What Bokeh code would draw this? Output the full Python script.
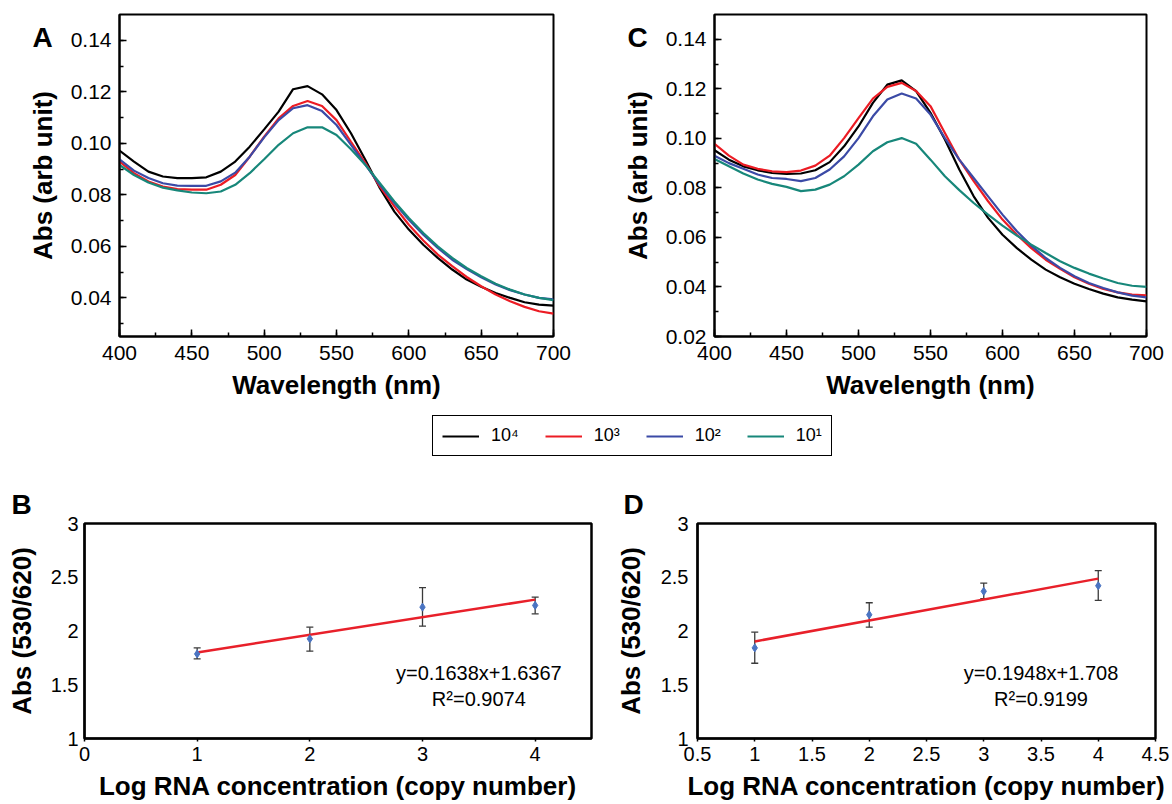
from bokeh.plotting import figure
from bokeh.models import (Range1d, SingleIntervalTicker, FixedTicker, PrintfTickFormatter,
                          CustomJSTickFormatter, Label, Legend, LegendItem, Whisker, TeeHead,
                          ColumnDataSource, Title)
from bokeh.layouts import column, row
from bokeh.embed import file_html
from bokeh.resources import INLINE

FONT = "Liberation Sans"

# ---------------- data ----------------
wavelength = list(range(400, 701, 10))
series_labels = ["10⁴", "10³", "10²", "10¹"]
series_colors = ["#000000", "#ec1c24", "#3b4aa6", "#17877a"]

# Panel A spectra
a_1e4 = [0.0972, 0.0929, 0.0890, 0.0871, 0.0865, 0.0865, 0.0868, 0.0890, 0.0929, 0.0987,
         0.1054, 0.1123, 0.1210, 0.1222, 0.1190, 0.1129, 0.1039, 0.0935, 0.0826, 0.0735,
         0.0665, 0.0606, 0.0555, 0.0510, 0.0471, 0.0443, 0.0419, 0.0400, 0.0383, 0.0374, 0.0370]
a_1e3 = [0.0929, 0.0884, 0.0852, 0.0832, 0.0822, 0.0820, 0.0820, 0.0839, 0.0877, 0.0948,
         0.1026, 0.1097, 0.1145, 0.1164, 0.1145, 0.1090, 0.1006, 0.0923, 0.0832, 0.0755,
         0.0684, 0.0623, 0.0568, 0.0523, 0.0481, 0.0445, 0.0413, 0.0387, 0.0365, 0.0348, 0.0339]
a_1e2 = [0.0938, 0.0894, 0.0865, 0.0845, 0.0836, 0.0835, 0.0835, 0.0852, 0.0886, 0.0948,
         0.1023, 0.1090, 0.1136, 0.1148, 0.1125, 0.1071, 0.0994, 0.0916, 0.0839, 0.0768,
         0.0703, 0.0645, 0.0594, 0.0548, 0.0512, 0.0480, 0.0452, 0.0430, 0.0413, 0.0400, 0.0394]
a_1e1 = [0.0916, 0.0877, 0.0848, 0.0828, 0.0817, 0.0809, 0.0806, 0.0813, 0.0839, 0.0884,
         0.0938, 0.0994, 0.1039, 0.1062, 0.1062, 0.1032, 0.0977, 0.0916, 0.0845, 0.0774,
         0.0710, 0.0652, 0.0600, 0.0555, 0.0516, 0.0484, 0.0455, 0.0432, 0.0413, 0.0400, 0.0391]

# Panel C spectra
c_1e4 = [0.0952, 0.0914, 0.0887, 0.0871, 0.0860, 0.0856, 0.0858, 0.0871, 0.0904, 0.0968,
         0.1048, 0.1143, 0.1217, 0.1234, 0.1191, 0.1103, 0.0995, 0.0874, 0.0766, 0.0679,
         0.0611, 0.0557, 0.0510, 0.0470, 0.0439, 0.0413, 0.0392, 0.0373, 0.0358, 0.0349, 0.0342]
c_1e3 = [0.0978, 0.0930, 0.0894, 0.0877, 0.0867, 0.0864, 0.0870, 0.0890, 0.0930, 0.1001,
         0.1082, 0.1160, 0.1208, 0.1224, 0.1191, 0.1130, 0.1022, 0.0914, 0.0827, 0.0746,
         0.0672, 0.0611, 0.0557, 0.0510, 0.0473, 0.0439, 0.0413, 0.0392, 0.0378, 0.0369, 0.0366]
c_1e2 = [0.0930, 0.0900, 0.0877, 0.0854, 0.0840, 0.0836, 0.0827, 0.0840, 0.0874, 0.0927,
         0.1001, 0.1089, 0.1157, 0.1181, 0.1161, 0.1096, 0.1001, 0.0914, 0.0840, 0.0766,
         0.0692, 0.0625, 0.0567, 0.0517, 0.0477, 0.0443, 0.0416, 0.0396, 0.0378, 0.0365, 0.0358]
c_1e1 = [0.0917, 0.0887, 0.0858, 0.0834, 0.0816, 0.0804, 0.0787, 0.0793, 0.0813, 0.0847,
         0.0894, 0.0948, 0.0984, 0.1001, 0.0978, 0.0914, 0.0847, 0.0791, 0.0739, 0.0692,
         0.0648, 0.0607, 0.0571, 0.0537, 0.0504, 0.0477, 0.0454, 0.0434, 0.0416, 0.0405, 0.0400]

# Panels B and D: calibration
log_conc = [1, 2, 3, 4]
b_mean = [1.787, 1.927, 2.222, 2.238]
b_upper = [1.843, 2.036, 2.403, 2.316]
b_lower = [1.740, 1.812, 2.045, 2.160]
b_slope, b_intercept = 0.1638, 1.6367
b_eq = "y=0.1638x+1.6367"
b_r2 = "R²=0.9074"

d_mean = [1.843, 2.151, 2.369, 2.421]
d_upper = [1.989, 2.263, 2.446, 2.561]
d_lower = [1.700, 2.036, 2.300, 2.285]
d_slope, d_intercept = 0.1948, 1.708
d_eq = "y=0.1948x+1.708"
d_r2 = "R²=0.9199"

b_xticks = [0, 1, 2, 3, 4]
d_xticks = [0.5, 1, 1.5, 2, 2.5, 3, 3.5, 4, 4.5]
calib_yticks = [1, 1.5, 2, 2.5, 3]


def base_axis_style(p, tick_font="20px", label_font="26px"):
    for ax in p.axis:
        ax.axis_line_color = "black"
        ax.axis_line_width = 2
        ax.major_tick_line_color = "black"
        ax.minor_tick_line_color = "black"
        ax.major_tick_line_width = 1.5
        ax.minor_tick_line_width = 1.5
        ax.major_label_text_font = FONT
        ax.major_label_text_font_size = tick_font
        ax.major_label_text_color = "black"
        ax.axis_label_text_font = FONT
        ax.axis_label_text_font_size = label_font
        ax.axis_label_text_font_style = "bold"
        ax.axis_label_text_color = "black"
    p.xgrid.visible = False
    p.ygrid.visible = False
    p.outline_line_color = "black"
    p.outline_line_alpha = 1.0


def spectrum_fig(width, mbl, mbr, ymin, letter, letter_y, letter_dx, curves):
    p = figure(width=width, height=408, output_backend="svg", toolbar_location=None,
               x_range=Range1d(400, 700), y_range=Range1d(ymin, 0.15),
               min_border_left=mbl, min_border_right=mbr,
               min_border_top=14, min_border_bottom=72)
    for ys, c in zip(curves, series_colors):
        p.line(wavelength, ys, line_color=c, line_width=2.2)
    p.xaxis.ticker = SingleIntervalTicker(interval=50, num_minor_ticks=2)
    p.yaxis.ticker = SingleIntervalTicker(interval=0.02, num_minor_ticks=2)
    p.yaxis.formatter = PrintfTickFormatter(format="%.2f")
    p.xaxis.axis_label = "Wavelength (nm)"
    p.yaxis.axis_label = "Abs (arb unit)"
    base_axis_style(p, tick_font="21px")
    for ax in p.axis:
        ax.major_tick_in = 7
        ax.major_tick_out = 0
        ax.minor_tick_in = 4
        ax.minor_tick_out = 0
    p.xaxis.major_label_standoff = 9
    p.xaxis.axis_label_standoff = 7
    p.yaxis.major_label_standoff = 8
    p.yaxis.axis_label_standoff = 10
    p.outline_line_width = 2
    # panel letter: a label placed in the left side panel so that it is not clipped
    p.add_layout(Label(x=400, y=letter_y, x_offset=letter_dx, text=letter, text_font=FONT,
                       text_font_size="28px", text_font_style="bold",
                       text_baseline="alphabetic", text_align="left", text_color="black"),
                 "left")
    return p


def calib_fig(width, mbl, mbr, xmin, xmax, xticks, mean, upper, lower, slope, intercept,
              eq_text, r2_text, letter, letter_dx, ylab_standoff, ylab_axis_standoff):
    p = figure(width=width, height=334, output_backend="svg", toolbar_location=None,
               x_range=Range1d(xmin, xmax), y_range=Range1d(1, 3),
               min_border_left=mbl, min_border_right=mbr,
               min_border_top=53, min_border_bottom=66)
    src = ColumnDataSource(dict(x=log_conc, y=mean, upper=upper, lower=lower))
    w = Whisker(source=src, base="x", upper="upper", lower="lower", dimension="height",
                line_color="#3a3a3a", line_width=1.3,
                upper_head=TeeHead(size=7, line_color="#3a3a3a", line_width=1.3),
                lower_head=TeeHead(size=7, line_color="#3a3a3a", line_width=1.3))
    p.add_layout(w)
    fit_x = [log_conc[0], log_conc[-1]]
    fit_y = [slope * x + intercept for x in fit_x]
    p.line(fit_x, fit_y, line_color="#e8202a", line_width=2.5)
    p.scatter(x="x", y="y", source=src, marker="diamond", size=8,
              fill_color="#4a74c2", line_color="#4a74c2")
    p.xaxis.ticker = FixedTicker(ticks=xticks, minor_ticks=[])
    p.yaxis.ticker = FixedTicker(ticks=calib_yticks, minor_ticks=[])
    p.xaxis.formatter = CustomJSTickFormatter(code="return String(Math.round(tick*100)/100);")
    p.yaxis.formatter = CustomJSTickFormatter(code="return String(Math.round(tick*100)/100);")
    p.xaxis.axis_label = "Log RNA concentration (copy number)"
    p.yaxis.axis_label = "Abs (530/620)"
    base_axis_style(p)
    p.xaxis.major_tick_out = 3
    p.xaxis.major_tick_in = 0
    p.yaxis.major_tick_out = 0
    p.yaxis.major_tick_in = 0
    p.xaxis.major_label_standoff = 5
    p.xaxis.axis_label_standoff = 7
    p.yaxis.major_label_standoff = ylab_standoff
    p.yaxis.axis_label_standoff = ylab_axis_standoff
    p.outline_line_width = 2.5
    p.add_layout(Label(x=3.5, y=1.605, text=eq_text, text_font=FONT, text_font_size="20px",
                       text_align="center", text_baseline="middle", text_color="black"))
    p.add_layout(Label(x=3.5, y=1.372, text=r2_text, text_font=FONT, text_font_size="20px",
                       text_align="center", text_baseline="middle", text_color="black"))
    p.title = Title(text=letter, align="left", offset=letter_dx, standoff=8,
                    vertical_align="bottom", text_font=FONT, text_font_size="28px",
                    text_font_style="bold", text_color="black")
    return p


pA = spectrum_fig(596, 119, 43, 0.025, "A", 0.1410, -87, [a_1e4, a_1e3, a_1e2, a_1e1])
pC = spectrum_fig(576, 118, 26, 0.02, "C", 0.1408, -87, [c_1e4, c_1e3, c_1e2, c_1e1])

# legend strip
pL = figure(width=1172, height=62, output_backend="svg", toolbar_location=None,
            x_range=Range1d(0, 1), y_range=Range1d(0, 1), min_border=0,
            x_axis_type=None, y_axis_type=None)
pL.outline_line_color = None
items = []
for ys, c, lab in zip([a_1e4, a_1e3, a_1e2, a_1e1], series_colors, series_labels):
    r = pL.line(wavelength, ys, line_color=c, line_width=2.2)
    items.append(LegendItem(label=lab, renderers=[r]))
legend = Legend(items=items, orientation="horizontal", location=(432, 14),
                border_line_color="black", border_line_width=1.2, border_line_alpha=1.0,
                background_fill_color="white", background_fill_alpha=1.0,
                label_text_font=FONT, label_text_font_size="18px", label_text_color="black",
                glyph_width=37, glyph_height=18, label_standoff=12, spacing=26,
                padding=9, margin=0)
pL.add_layout(legend)

pB = calib_fig(596, 84, 5, 0, 4.5, b_xticks, b_mean, b_upper, b_lower, b_slope, b_intercept,
               b_eq, b_r2, "B", -73, 6, 11)
pD = calib_fig(576, 101, 17, 0.5, 4.5, d_xticks, d_mean, d_upper, d_lower, d_slope, d_intercept,
               d_eq, d_r2, "D", -74, 9, 12)

layout = column(row(pA, pC), pL, row(pB, pD))

open("out.html", "w").write(file_html(layout, INLINE))
